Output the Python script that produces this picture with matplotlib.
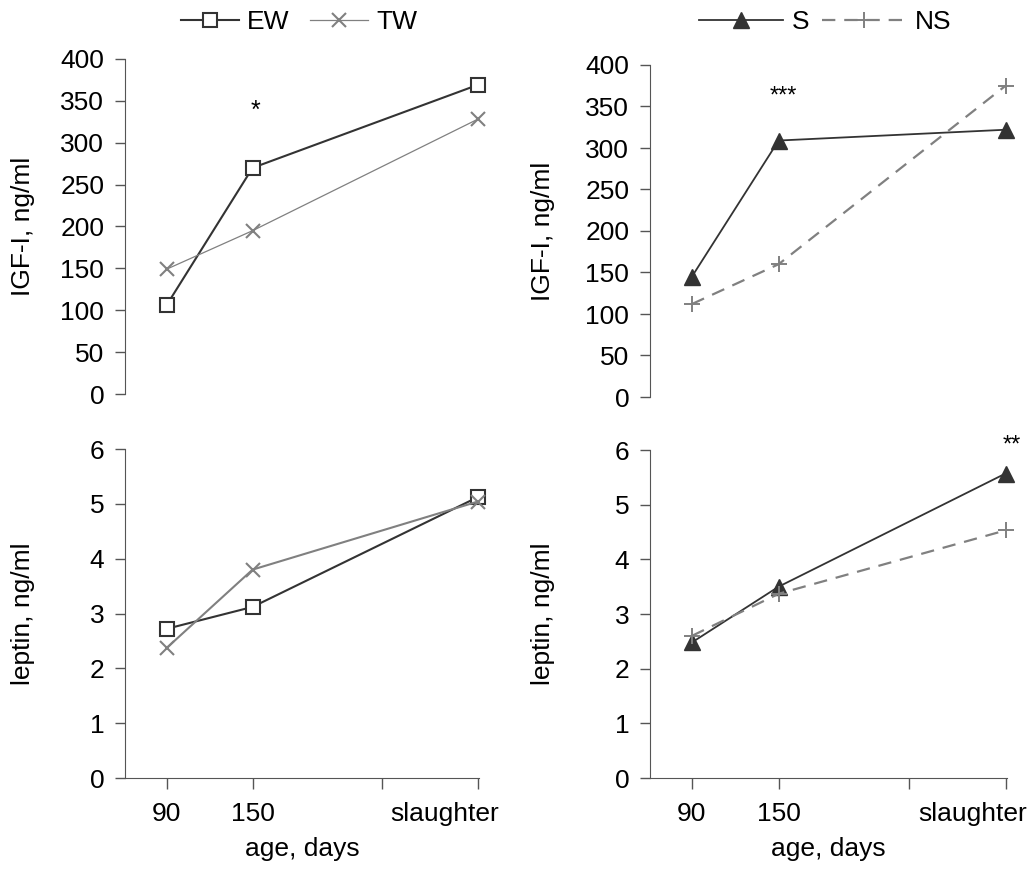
import matplotlib.pyplot as plt
from matplotlib.transforms import ScaledTranslation

plt.rcParams["font.family"] = ["Liberation Sans", "DejaVu Sans"]
plt.rcParams["font.size"] = 19

# x positions of the sampling ages (slaughter placed on the same day scale)
ages = [90, 150, 307]
age_labels = ["90", "150", "slaughter"]

igf_ew = [106, 270, 369]
igf_tw = [149, 195, 328]
igf_s = [145, 309, 322]
igf_ns = [112, 160, 375]

lep_ew = [2.72, 3.12, 5.12]
lep_tw = [2.37, 3.80, 5.04]
lep_s = [2.48, 3.50, 5.57]
lep_ns = [2.60, 3.37, 4.53]

DARK = "#333333"
GREY = "#808080"
OUTPUT_FILE = "out.png"

fig = plt.figure(figsize=(10.27, 8.71), dpi=100)

W, H = 1027, 871


def make_axes(left, right, top, bottom):
    return fig.add_axes([left / W, 1 - bottom / H, (right - left) / W, (bottom - top) / H])


ax_tl = make_axes(125, 479, 59, 394)
ax_tr = make_axes(650, 1007, 65, 397)
ax_bl = make_axes(125, 479, 449, 778)
ax_br = make_axes(650, 1007, 450, 778)

for ax in (ax_tl, ax_tr, ax_bl, ax_br):
    ax.set_xlim(61, 308)
    for s in ("top", "right"):
        ax.spines[s].set_visible(False)
    ax.spines["left"].set_color("#555555")
    ax.tick_params(axis="y", direction="out", length=7, width=1, color="#555555", pad=8)

for ax in (ax_tl, ax_tr):
    ax.set_ylim(0, 400)
    ax.set_yticks(range(0, 401, 50))
    ax.spines["bottom"].set_visible(False)
    ax.set_xticks([])
    ax.set_ylabel("IGF-I, ng/ml")

for ax in (ax_bl, ax_br):
    ax.set_ylim(0, 6)
    ax.set_yticks(range(0, 7))
    ax.spines["bottom"].set_color("#555555")
    ax.set_xticks(ages)
    ax.set_xticklabels(age_labels)
    ax.set_xticks([240], minor=True)
    ax.tick_params(axis="x", which="both", direction="out", length=8, width=1,
                   color="#555555", pad=9)
    ax.set_xlabel("age, days", labelpad=8)
    ax.set_ylabel("leptin, ng/ml")
    lab = ax.get_xticklabels()[2]
    lab.set_transform(lab.get_transform() + ScaledTranslation(-0.33, 0, fig.dpi_scale_trans))

ax_tl.yaxis.set_label_coords(-0.254, 0.5)
ax_bl.yaxis.set_label_coords(-0.254, 0.5)
ax_tr.yaxis.set_label_coords(-0.265, 0.5)
ax_br.yaxis.set_label_coords(-0.265, 0.5)

ew_style = dict(color=DARK, lw=1.5, marker="s", ms=10, mfc="white", mec=DARK, mew=1.5, clip_on=False)
s_style = dict(color=DARK, lw=1.3, marker="^", ms=11, mfc=DARK, mec=DARK, clip_on=False)
ns_style = dict(color=GREY, lw=1.6, ls=(0, (6, 4)), marker="+", ms=12, mew=1.4, clip_on=False)

ax_tl.plot(ages, igf_ew, label="EW", **ew_style)
ax_tl.plot(ages, igf_tw, label="TW", color=GREY, lw=0.9, marker="x", ms=10, mew=1.5, clip_on=False)
ax_bl.plot(ages, lep_ew, **ew_style)
ax_bl.plot(ages, lep_tw, color=GREY, lw=1.5, marker="x", ms=10, mew=1.5, clip_on=False)

ax_tr.plot(ages, igf_s, label="S", **s_style)
ax_tr.plot(ages, igf_ns, label="NS", **ns_style)
ax_br.plot(ages, lep_s, **s_style)
ax_br.plot(ages, lep_ns, **ns_style)

ax_tl.text(152, 338, "*", ha="center", va="center", fontsize=18)
ax_tr.text(153, 362, "***", ha="center", va="center", fontsize=17)
ax_br.text(311, 6.08, "**", ha="center", va="center", fontsize=17, clip_on=False)

fig.legend(*ax_tl.get_legend_handles_labels(), loc="center", bbox_to_anchor=(299 / W, 1 - 22 / H),
           ncol=2, frameon=False, handlelength=2.2, handletextpad=0.3, columnspacing=0.8,
           borderaxespad=0)
fig.legend(*ax_tr.get_legend_handles_labels(), loc="center", bbox_to_anchor=(825 / W, 1 - 22 / H),
           ncol=2, frameon=False, handlelength=3.2, handletextpad=0.3, columnspacing=0.5,
           borderaxespad=0)

fig.savefig(OUTPUT_FILE, dpi=100)
